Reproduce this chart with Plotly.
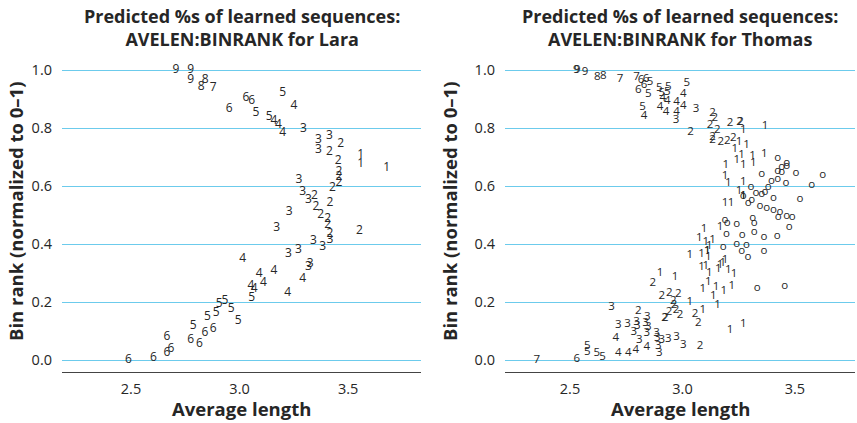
import plotly.graph_objects as go

# ---------------- data: Lara (label, average length, bin rank) ----------------
lara_lbl = ["9","9","9","8","8","7","6","6","6","5","5","5","4","4","4","4",
            "3","3","3","3","2","2","2","1","1","1","2","2","2","2","3","3","3",
            "2","2","2","3","2","2","2","3","2","2","3","3","3","3","3","3","3",
            "4","4","4","4","4","4","4","4",
            "5","5","5","5","5","5","5","5",
            "6","6","6","6","6","6","6","6","6"]
lara_x = [2.707,2.775,2.775,2.842,2.823,2.879,3.030,3.056,2.952,3.199,3.076,3.137,3.251,3.159,3.179,3.199,
          3.294,3.363,3.414,3.363,3.466,3.414,3.455,3.558,3.558,3.678,3.458,3.458,3.458,3.428,3.274,3.291,3.317,
          3.345,3.417,3.352,3.229,3.374,3.406,3.406,3.171,3.552,3.417,3.417,3.340,3.383,3.271,3.225,3.325,3.317,
          3.015,3.091,3.159,3.110,3.291,3.053,3.067,3.222,
          3.056,2.906,2.933,2.961,2.852,2.892,2.994,2.787,
          2.879,2.840,2.665,2.775,2.815,2.684,2.665,2.603,2.488]
lara_y = [1.000,1.000,0.966,0.966,0.942,0.937,0.904,0.893,0.866,0.920,0.853,0.839,0.877,0.824,0.810,0.782,
          0.797,0.759,0.773,0.724,0.744,0.716,0.686,0.707,0.676,0.664,0.649,0.632,0.609,0.592,0.621,0.580,0.552,
          0.566,0.542,0.529,0.511,0.500,0.485,0.466,0.454,0.445,0.434,0.414,0.410,0.391,0.379,0.366,0.333,0.322,
          0.348,0.297,0.308,0.267,0.278,0.255,0.244,0.230,
          0.215,0.193,0.204,0.176,0.149,0.161,0.136,0.117,
          0.106,0.092,0.078,0.069,0.054,0.040,0.023,0.006,0.000]

# ---------------- data: Thomas ----------------
thomas_lbl = (["9","9","9","8","8","7","7","6","6","6","6"]
              + ["5"]*8 + ["4"]*9 + ["3","3"]
              + ["2"]*13
              + ["2"]*15
              + ["1"]*53
              + ["o"]*49
              + ["3"]*19 + ["4"]*5 + ["5"]*4 + ["6","7"])
thomas_x = ([2.528,2.532,2.567,2.621,2.648,2.722,2.796,2.816,2.838,2.829,2.804]
            + [2.856,2.848,2.897,2.937,2.908,2.932,3.019,2.823]
            + [2.912,2.932,2.974,3.004,3.004,2.829,2.900,2.927,2.974]
            + [2.971,3.060]
            + [3.134,3.144,3.122,3.211,3.254,3.258,3.155,3.036,3.134,3.134,3.170,3.199,3.226]
            + [2.868,2.908,2.941,2.981,2.959,2.962,2.804,2.940,2.971,2.989,2.920,2.924,3.056,3.070,3.078]
            + [3.270,3.367,3.252,3.285,3.233,3.263,3.241,3.312,3.364,3.193,3.270,3.315,3.189,3.204,3.270,
               3.252,3.270,3.189,3.216,3.167,3.096,3.075,3.104,3.134,3.119,3.033,3.085,3.115,3.110,3.189,
               3.179,3.167,3.085,3.104,3.119,3.159,3.204,3.229,2.900,2.967,3.115,3.090,3.149,3.184,3.219,
               3.137,3.033,3.156,3.090,3.211,3.270,3.270,3.110]
            + [3.423,3.463,3.441,3.423,3.463,3.441,3.504,3.623,3.352,3.423,3.396,3.460,3.574,3.304,3.381,
               3.327,3.352,3.367,3.270,3.404,3.522,3.308,3.292,3.344,3.374,3.404,3.433,3.463,3.488,3.426,
               3.312,3.319,3.189,3.199,3.241,3.475,3.319,3.196,3.266,3.362,3.421,3.241,3.284,3.181,3.263,
               3.291,3.362,3.332,3.454]
            + [2.685,2.844,2.715,2.756,2.796,2.799,2.836,2.848,2.784,2.841,2.885,2.808,2.888,2.908,2.937,
               2.974,3.004,2.892,2.897]
            + [2.704,2.715,2.759,2.793,2.841]
            + [2.577,2.577,2.619,2.645]
            + [2.530,2.352])
thomas_y = ([1.000,1.000,0.994,0.977,0.980,0.969,0.977,0.966,0.969,0.948,0.931]
            + [0.958,0.916,0.937,0.942,0.920,0.923,0.954,0.871]
            + [0.902,0.893,0.891,0.916,0.877,0.841,0.871,0.854,0.854]
            + [0.828,0.866]
            + [0.851,0.833,0.810,0.816,0.822,0.822,0.793,0.785,0.770,0.759,0.751,0.755,0.767]
            + [0.267,0.221,0.232,0.228,0.203,0.188,0.169,0.166,0.172,0.155,0.145,0.145,0.159,0.127,0.048]
            + [0.793,0.808,0.751,0.741,0.728,0.707,0.688,0.703,0.710,0.672,0.672,0.678,0.634,0.611,0.615,
               0.584,0.566,0.540,0.542,0.458,0.451,0.420,0.408,0.414,0.393,0.362,0.366,0.356,0.377,0.345,
               0.333,0.328,0.322,0.324,0.299,0.313,0.310,0.297,0.299,0.287,0.270,0.244,0.251,0.238,0.255,
               0.221,0.201,0.190,0.172,0.103,0.124,0.566,0.377]
            + [0.696,0.680,0.664,0.653,0.669,0.649,0.646,0.638,0.641,0.623,0.618,0.611,0.603,0.598,0.596,
               0.577,0.572,0.580,0.566,0.558,0.554,0.552,0.540,0.531,0.523,0.517,0.511,0.497,0.494,0.492,
               0.489,0.471,0.483,0.473,0.469,0.458,0.442,0.433,0.431,0.423,0.428,0.400,0.395,0.388,0.377,
               0.354,0.377,0.247,0.255]
            + [0.184,0.149,0.121,0.124,0.132,0.117,0.129,0.113,0.098,0.092,0.092,0.069,0.077,0.069,0.071,
               0.080,0.052,0.048,0.025]
            + [0.075,0.025,0.023,0.034,0.046]
            + [0.048,0.029,0.025,0.011]
            + [0.002,0.000])

y_ticks = [0.0, 0.2, 0.4, 0.6, 0.8, 1.0]
x_ticks = [2.5, 3.0, 3.5]
titles = ["Predicted %s of learned sequences:<br>AVELEN:BINRANK for Lara",
          "Predicted %s of learned sequences:<br>AVELEN:BINRANK for Thomas"]
x_title = "Average length"
y_title = "Bin rank (normalized to 0–1)"

FONT = "Open Sans"
TXT = "#262626"
GRID = "#6ccbec"

fig = go.Figure()
fig.add_trace(go.Scatter(x=lara_x, y=lara_y, text=lara_lbl, mode="text",
                         textfont=dict(family=FONT, size=12, color=TXT),
                         xaxis="x", yaxis="y", hoverinfo="skip", showlegend=False))
fig.add_trace(go.Scatter(x=thomas_x, y=thomas_y, text=thomas_lbl, mode="text",
                         textfont=dict(family=FONT, size=11.5, color=TXT),
                         xaxis="x2", yaxis="y2", hoverinfo="skip", showlegend=False))

W, H = 857, 423
dom_l = [62 / W, 421 / W]
dom_r = [505 / W, 855 / W]
dom_y = [(H - 372) / H, (H - 55) / H]

xcommon = dict(showgrid=False, zeroline=False, showline=True, linecolor="#444444", linewidth=1.2,
               ticks="", tickvals=x_ticks, ticktext=["2.5", "3.0", "3.5"],
               tickfont=dict(family=FONT, size=14.5, color=TXT), ticklabelstandoff=3)
ycommon = dict(range=[-0.041, 1.052], showgrid=True, gridcolor=GRID, gridwidth=1, zeroline=False,
               showline=False, ticks="", tickvals=y_ticks, ticktext=[f"{v:.1f}" for v in y_ticks],
               tickfont=dict(family=FONT, size=14.5, color=TXT), ticklabelstandoff=9)

fig.update_layout(
    width=W, height=H, margin=dict(l=0, r=0, t=0, b=0),
    paper_bgcolor="white", plot_bgcolor="white",
    xaxis=dict(domain=dom_l, range=[2.182, 3.836], anchor="y", **xcommon),
    yaxis=dict(domain=dom_y, anchor="x", **ycommon),
    xaxis2=dict(domain=dom_r, range=[2.211, 3.767], anchor="y2", **xcommon),
    yaxis2=dict(domain=dom_y, anchor="x2", **ycommon),
)

ann = []
for i, (dom, t) in enumerate(zip([dom_l, dom_r], titles)):
    cx = (dom[0] + dom[1]) / 2
    ann.append(dict(text="<b>" + t + "</b>", x=cx, y=1 - 28 / H, xref="paper", yref="paper",
                    showarrow=False, font=dict(family=FONT, size=18, color=TXT), align="center",
                    xanchor="center", yanchor="middle"))
    ann.append(dict(text="<b>" + x_title + "</b>", x=cx, y=1 - 408 / H, xref="paper", yref="paper",
                    showarrow=False, font=dict(family=FONT, size=18.5, color=TXT),
                    xanchor="center", yanchor="middle"))
    ann.append(dict(text="<b>" + y_title + "</b>", x=(16 if i == 0 else 450) / W,
                    y=1 - 212 / H, xref="paper", yref="paper", textangle=-90,
                    showarrow=False, font=dict(family=FONT, size=18.5, color=TXT),
                    xanchor="center", yanchor="middle"))
fig.update_layout(annotations=ann)

fig.write_html("out.html", config={"displayModeBar": False},
               post_script="document.body.style.margin='0';")
